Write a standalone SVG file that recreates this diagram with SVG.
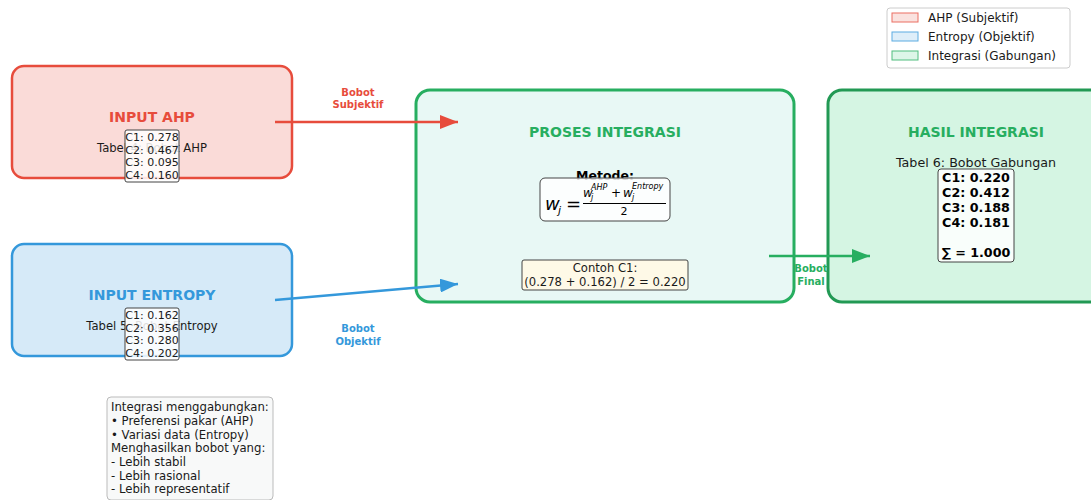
<svg xmlns="http://www.w3.org/2000/svg" width="1091" height="500" viewBox="0 0 1091 500">
<style>
text{font-family:"DejaVu Sans","Liberation Sans",sans-serif;}
.title{font-size:14px;font-weight:bold;text-anchor:middle;}
.sub{font-size:11.6px;text-anchor:middle;fill:#1a1a1a;}
.val{font-size:11px;text-anchor:middle;fill:#1a1a1a;}
.lbl{font-size:10px;font-weight:bold;text-anchor:middle;}
.vbox{fill:#ffffff;fill-opacity:0.85;stroke:#444;stroke-width:1;}
.leg{font-size:12px;fill:#1a1a1a;}
.note{font-size:11.7px;fill:#1a1a1a;}
.m{font-style:italic;fill:#000;}
</style>
<defs>
<marker id="ar" markerWidth="18" markerHeight="14" refX="18" refY="7" orient="auto" markerUnits="userSpaceOnUse"><path d="M0,0 L18,7 L0,14 Z" fill="#e74c3c"/></marker>
<marker id="ab" markerWidth="18" markerHeight="14" refX="18" refY="7" orient="auto" markerUnits="userSpaceOnUse"><path d="M0,0 L18,7 L0,14 Z" fill="#3498db"/></marker>
<marker id="ag" markerWidth="18" markerHeight="14" refX="18" refY="7" orient="auto" markerUnits="userSpaceOnUse"><path d="M0,0 L18,7 L0,14 Z" fill="#27ae60"/></marker>
</defs>
<rect width="1091" height="500" fill="#ffffff"/>

<g id="legend">
<rect x="887" y="8" width="183" height="60" rx="3" fill="#ffffff" stroke="#cccccc" stroke-width="1"/>
<rect x="892" y="13" width="26" height="9" fill="#fadbd8" stroke="#e74c3c" stroke-width="1" opacity="0.8"/>
<text class="leg" x="928" y="22">AHP (Subjektif)</text>
<rect x="892" y="32" width="26" height="9" fill="#d6eaf8" stroke="#3498db" stroke-width="1" opacity="0.8"/>
<text class="leg" x="928" y="41">Entropy (Objektif)</text>
<rect x="892" y="51" width="26" height="9" fill="#d5f5e3" stroke="#27ae60" stroke-width="1" opacity="0.8"/>
<text class="leg" x="928" y="60">Integrasi (Gabungan)</text>
</g>

<g id="input-ahp">
<rect x="12" y="66" width="280" height="112" rx="12" fill="#fadbd8" stroke="#e74c3c" stroke-width="2.5"/>
<text class="title" x="152" y="122" fill="#e74c3c">INPUT AHP</text>
<text class="sub" x="152" y="152">Tabel 4: Bobot AHP</text>
<rect class="vbox" x="125" y="130" width="54" height="52" rx="2"/>
<text class="val" x="152" y="141">C1: 0.278</text>
<text class="val" x="152" y="154">C2: 0.467</text>
<text class="val" x="152" y="166">C3: 0.095</text>
<text class="val" x="152" y="179">C4: 0.160</text>
</g>

<g id="input-entropy">
<rect x="12" y="244" width="280" height="112" rx="12" fill="#d6eaf8" stroke="#3498db" stroke-width="2.5"/>
<text class="title" x="152" y="300" fill="#3498db">INPUT ENTROPY</text>
<text class="sub" x="152" y="330">Tabel 5: Bobot Entropy</text>
<rect class="vbox" x="125" y="308" width="54" height="52" rx="2"/>
<text class="val" x="152" y="319">C1: 0.162</text>
<text class="val" x="152" y="332">C2: 0.356</text>
<text class="val" x="152" y="344">C3: 0.280</text>
<text class="val" x="152" y="357">C4: 0.202</text>
</g>

<g id="proses-integrasi">
<rect x="416" y="90" width="378" height="212" rx="14" fill="#e8f8f5" stroke="#27ae60" stroke-width="3"/>
<text class="title" x="605" y="137" fill="#27ae60">PROSES INTEGRASI</text>
<text x="605" y="180" font-size="12.5" font-weight="bold" text-anchor="middle" fill="#000">Metode:</text>
<rect x="540" y="178" width="130" height="43" rx="5" fill="#ffffff" fill-opacity="0.85" stroke="#444" stroke-width="1"/>
<text class="m" x="545" y="210" font-size="18">w</text>
<text class="m" x="558" y="214" font-size="11">j</text>
<text x="566" y="210" font-size="18" fill="#000">=</text>
<text class="m" x="583" y="197" font-size="12">w</text>
<text class="m" x="591" y="190" font-size="8">AHP</text>
<text class="m" x="591" y="200" font-size="8">j</text>
<text x="611" y="197" font-size="12" fill="#000">+</text>
<text class="m" x="623" y="197" font-size="12">w</text>
<text class="m" x="632" y="189" font-size="8">Entropy</text>
<text class="m" x="632" y="200" font-size="8">j</text>
<line x1="583" y1="203.5" x2="666" y2="203.5" stroke="#000" stroke-width="1"/>
<text x="624" y="215" font-size="11" text-anchor="middle" fill="#000">2</text>
<rect x="522" y="260" width="166" height="30" rx="2" fill="#fef9e7" stroke="#444" stroke-width="1"/>
<text x="605" y="272" font-size="11.6" text-anchor="middle" fill="#1a1a1a">Contoh C1:</text>
<text x="605" y="286" font-size="11.6" text-anchor="middle" fill="#1a1a1a">(0.278 + 0.162) / 2 = 0.220</text>
</g>

<g id="hasil-integrasi">
<rect x="828" y="90" width="290" height="212" rx="14" fill="#d5f5e3" stroke="#229954" stroke-width="3"/>
<text class="title" x="976" y="137" fill="#27ae60">HASIL INTEGRASI</text>
<text x="976" y="167" font-size="12.7" text-anchor="middle" fill="#1a1a1a">Tabel 6: Bobot Gabungan</text>
<rect x="938" y="169" width="76" height="93" rx="3" fill="#ffffff" fill-opacity="0.85" stroke="#444" stroke-width="1"/>
<g font-size="12.7" font-weight="bold" text-anchor="middle" fill="#000">
<text x="976" y="182">C1: 0.220</text>
<text x="976" y="197">C2: 0.412</text>
<text x="976" y="212">C3: 0.188</text>
<text x="976" y="227">C4: 0.181</text>
<text x="976" y="257">∑ = 1.000</text>
</g>
</g>

<g id="catatan">
<rect x="107" y="397" width="166" height="103" rx="4" fill="#f8f9f9" stroke="#bbbbbb" stroke-width="1"/>
<text class="note" x="111" y="411">Integrasi menggabungkan:</text>
<text class="note" x="111" y="425">• Preferensi pakar (AHP)</text>
<text class="note" x="111" y="439">• Variasi data (Entropy)</text>
<text class="note" x="111" y="452">Menghasilkan bobot yang:</text>
<text class="note" x="111" y="466">- Lebih stabil</text>
<text class="note" x="111" y="480">- Lebih rasional</text>
<text class="note" x="111" y="493">- Lebih representatif</text>
</g>

<g id="connectors">
<line x1="275" y1="122" x2="458" y2="122" stroke="#e74c3c" stroke-width="2.5" marker-end="url(#ar)"/>
<text class="lbl" x="358" y="96" fill="#e74c3c">Bobot</text>
<text class="lbl" x="358" y="108" fill="#e74c3c">Subjektif</text>
<line x1="275" y1="300" x2="458" y2="284" stroke="#3498db" stroke-width="2.5" marker-end="url(#ab)"/>
<text class="lbl" x="358" y="332" fill="#3498db">Bobot</text>
<text class="lbl" x="358" y="345" fill="#3498db">Objektif</text>
<line x1="769" y1="256" x2="870" y2="256" stroke="#27ae60" stroke-width="2.5" marker-end="url(#ag)"/>
<text class="lbl" x="811" y="272" fill="#27ae60">Bobot</text>
<text class="lbl" x="811" y="285" fill="#27ae60">Final</text>
</g>
</svg>
